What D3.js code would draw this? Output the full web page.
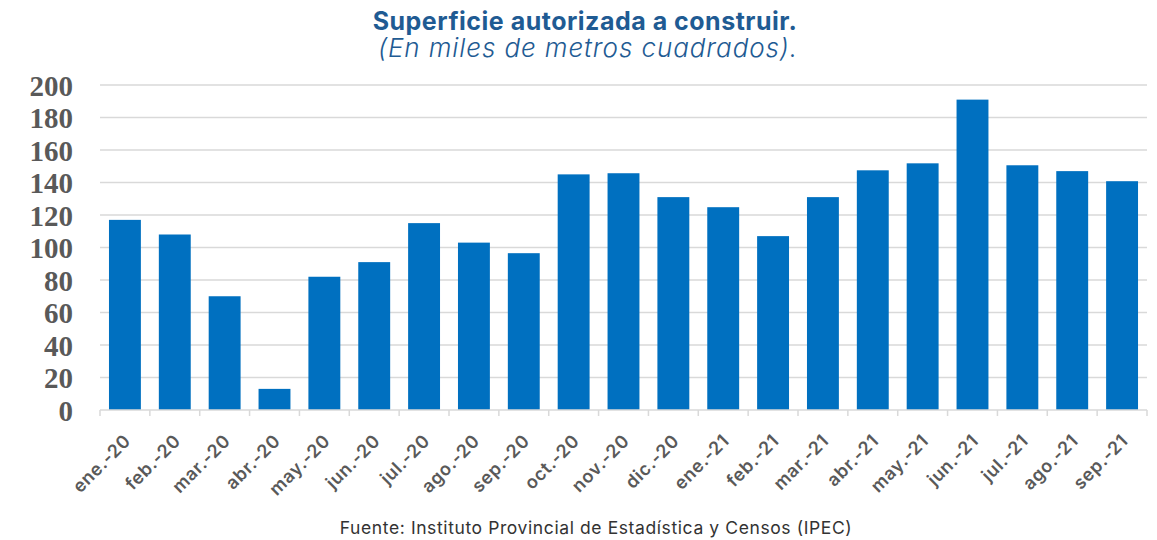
<!DOCTYPE html>
<html>
<head>
<meta charset="utf-8">
<script src="https://cdn.jsdelivr.net/npm/d3@7"></script>
<style>
  body { margin: 0; background: #fff; }
  svg text { font-family: Inter, "Open Sans", sans-serif; }
</style>
</head>
<body>
<div id="chart"></div>
<script>
// data
var months = ["ene.-20","feb.-20","mar.-20","abr.-20","may.-20","jun.-20","jul.-20","ago.-20","sep.-20","oct.-20","nov.-20","dic.-20",
              "ene.-21","feb.-21","mar.-21","abr.-21","may.-21","jun.-21","jul.-21","ago.-21","sep.-21"];
var superficie = [117, 108, 70, 13, 82, 91, 115, 103, 96.5, 145, 145.7, 131,
                  124.8, 107, 131, 147.5, 151.8, 191, 150.6, 147, 140.8];
var yTicks = [0, 20, 40, 60, 80, 100, 120, 140, 160, 180, 200];

var width = 1157, height = 540;
var margin = {top: 85, right: 10, bottom: 130, left: 100};

var svg = d3.select("#chart").append("svg")
    .attr("width", width)
    .attr("height", height);

var x = d3.scaleBand()
    .domain(months)
    .range([margin.left, width - margin.right])
    .paddingInner(0.36)
    .paddingOuter(0.18);

var y = d3.scaleLinear()
    .domain([0, 200])
    .range([height - margin.bottom, margin.top]);

// gridlines
svg.append("g")
    .selectAll("line")
    .data(yTicks.slice(1))
    .enter()
    .append("line")
    .attr("x1", margin.left)
    .attr("x2", width - margin.right)
    .attr("y1", d => y(d))
    .attr("y2", d => y(d))
    .attr("stroke", "#d9d9d9")
    .attr("stroke-width", 1.5);

// y axis labels
var yAxis = d3.axisLeft(y).tickValues(yTicks).tickSize(0).tickPadding(0);
svg.append("g")
    .attr("transform", `translate(${margin.left - 27}, 0)`)
    .call(yAxis)
    .call(g => g.select(".domain").remove())
    .selectAll("text")
    .attr("dy", "0.36em")
    .style("font-family", "'Liberation Serif', 'Times New Roman', serif")
    .style("font-weight", "bold")
    .style("font-size", "29px")
    .attr("fill", "#595959");

// bars
svg.append("g")
    .selectAll(".bar")
    .data(superficie)
    .enter()
    .append("rect")
    .classed("bar", true)
    .attr("x", (d, i) => x(months[i]))
    .attr("y", d => y(d))
    .attr("width", x.bandwidth())
    .attr("height", d => y(0) - y(d))
    .attr("fill", "#0070c0");

// x axis with ticks at category boundaries
var step = x.step();
var x0 = y(0);
var axisG = svg.append("g");
axisG.append("line")
    .attr("x1", margin.left)
    .attr("x2", width - margin.right)
    .attr("y1", x0)
    .attr("y2", x0)
    .attr("stroke", "#d9d9d9")
    .attr("stroke-width", 1.5);
axisG.selectAll(".tk")
    .data(d3.range(months.length + 1))
    .enter()
    .append("line")
    .attr("x1", i => margin.left + i * step)
    .attr("x2", i => margin.left + i * step)
    .attr("y1", x0)
    .attr("y2", x0 + 6)
    .attr("stroke", "#d9d9d9")
    .attr("stroke-width", 1.5);

svg.append("g")
    .selectAll(".xl")
    .data(months)
    .enter()
    .append("text")
    .attr("transform", d => `translate(${x(d) + x.bandwidth() / 2 + 7}, ${x0 + 32}) rotate(-45)`)
    .attr("text-anchor", "end")
    .attr("fill", "#595959")
    .style("font-size", "18px")
    .style("font-weight", "600")
    .style("letter-spacing", "0.6px")
    .text(d => d);

// titles
svg.append("text")
    .attr("x", 585)
    .attr("y", 30)
    .attr("text-anchor", "middle")
    .attr("fill", "#1f5b93")
    .style("font-size", "25px")
    .style("font-weight", "bold")
    .style("letter-spacing", "0.5px")
    .text("Superficie autorizada a construir.");

svg.append("text")
    .attr("x", 588)
    .attr("y", 57)
    .attr("text-anchor", "middle")
    .attr("fill", "#1f5b93")
    .style("font-size", "26px")
    .style("font-style", "italic")
    .style("font-weight", "300")
    .style("letter-spacing", "0.9px")
    .text("(En miles de metros cuadrados).");

svg.append("text")
    .attr("x", 596)
    .attr("y", 534)
    .attr("text-anchor", "middle")
    .attr("fill", "#333")
    .style("font-size", "17.5px")
    .style("letter-spacing", "0.6px")
    .text("Fuente: Instituto Provincial de Estadística y Censos (IPEC)");
</script>
</body>
</html>
